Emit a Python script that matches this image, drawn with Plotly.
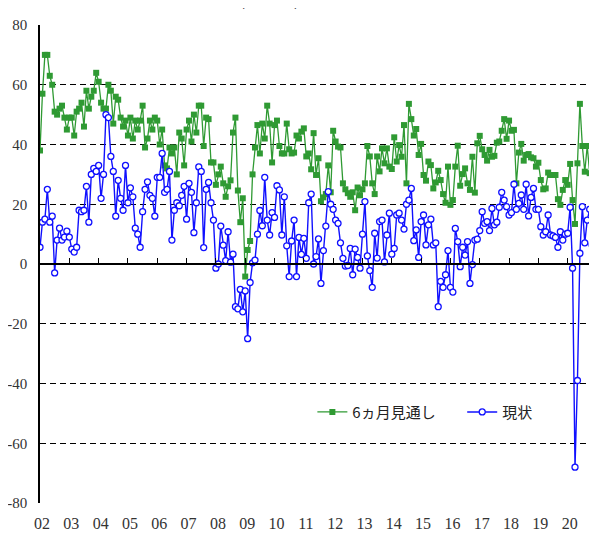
import plotly.graph_objects as go

# Monthly data, Jan 2002 onward
start_year = 2002

outlook_6m = [
    38, 57, 70, 70, 63, 60, 51, 50, 52, 53, 49, 45, 49, 49, 43, 51, 52, 54, 46, 58,
    52, 56, 58, 64, 61, 54, 52, 52, 60, 58, 47, 56, 55, 49, 46, 48, 43, 49, 42, 48,
    45, 48, 53, 39, 42, 48, 45, 49, 48, 40, 45, 33, 32, 39, 37, 39, 30, 44, 42, 33,
    45, 48, 41, 50, 44, 53,
    53, 39.5, 49, 48.5, 34, 34, 26.5, 30, 32.6, 27, 22.5, 26, 28, 44, 49, 24.6, 14, 22,
    -4.2, 4.7, 7.7, 30, 39, 46.5, 37, 47, 42, 53, 47, 34, 46.5, 48, 39.5, 37, 37, 47,
    38.4, 37, 37.3, 43, 42, 44.3, 45.4, 36, 37, 31.7, 43.8, 29.8, 35.4, 21, 22.3, 23.4,
    33, 24, 44.6, 41, 39.3, 39, 27, 25, 23.7, 22.5, 24, 18, 25.6, 23, 25, 27, 39.5, 36,
    27, 23.4, 36, 31, 38.7, 33.7, 38.7, 32.6, 31.8, 42.4, 34.3, 39.8,
    35.9, 46.5, 27, 53.6, 48.5, 43, 45.2, 36.5, 40.2, 29.8, 27.9, 34.3, 33.1, 25.3,
    27.3, 31.2, 28.1, 23.4, 20.5, 32.6, 19.8, 21.4, 32.6, 39.6, 26.2, 30.1, 32, 27,
    24.8, 35.9, 23.9, 40.4, 42.9, 38.4, 36.5, 34.6, 38.2, 35.9, 36.2, 40.6, 41, 44.6,
    48.5, 41.9, 48, 44.6, 44.9, 27, 37.3, 40.2, 34.6, 36.5, 36.8, 35.7, 35.4, 32.6,
    33.9, 28.1, 25, 25.3, 30.6, 29.8, 29.8, 29.8, 21.7, 19.8, 24.8, 28.1, 26.5, 33.5,
    21.4, 13.4, 33.7, 53.6, 39.5, 30.9, 39.5, 30.4, 27.9, 33.1, 38.2,
]

current = [
    5.6, 14, 15, 25, 14, 16, -3, 8, 12, 8, 9, 11, 9, 5, 4, 5.6, 18, 17.5, 18, 26,
    14, 30, 32, 31, 33, 22, 30, 50, 49, 36, 31, 16, 28, 22, 18, 33, 20.5, 25.5, 22.5, 12,
    10, 5.6, 17.5, 25, 27.5, 23, 22, 16, 29, 29, 37, 24, 25, 31, 8, 18, 20.5, 19.5, 23, 26,
    15, 27, 24, 10.5, 20.5, 32.5,
    31, 5.5, 25, 27.3, 20.5, 14.7, -1.4, 0, 12.7, 6.3, 1.1, 10.8, 0.6, 3.3, -14.3, -15,
    -8.5, -16, -9, -25, -6.2, 0.4, 1.3, 10, 17.9, 12.8, 29, 14.7, 9.7, 17.2, 15.6, 26.2,
    24.8, 9.7, 22.5, 6.1, -4.2, 7.7, 14.7, -4.2, 8.9, 3.2, 8.6, 1.9, 20.5, 23.4, 0, 2.5,
    8.4, -6.5, 4.5, 12.7, 24.2, 20, 18.3, 14.7, 13.6, 7.1, 1.9, -0.7, -0.5, 5.2, -3.6, 5,
    2.2, -1.4, 10, 20.9, 2.7, -2.2, -7.8, 10.3, 2, 14.2, 14.7, 0.7, 9.7, 17, 3.3, 5.2,
    16.4, 17, 14.7, 11.7, 20, 21.4, 25.3, 7.8, 11.4, 2.2, 14.2, 16.4, 6.4, 13.1, 15, 6.4,
    7.1, -14.3, -5.8, -7.8, -3.6, 4.5, -7.8, -9.4, 11.9, 7.5, -0.9, 5.6, 3, 7.5, -6.5, -0.2,
    8, 8.3, 11.2, 17.5, 13.6, 14.2, 11.2, 18.6, 13.1, 14, 19, 24, 21.4, 19.2, 16.4, 17.2,
    26.7, 18.3, 20.3, 23.1, 18.3, 26.7, 16.1, 22.3, 25.3, 18.3, 18.3, 12.5, 9.7, 10.8, 16.4, 9.7,
    9.4, 8.9, 5.6, 10.8, 8, 10, 10.3, 19, -1.4, -68, -39, 3.6, 19.2, 7.1, 14.7, 18.3,
    6.4, 12.7, 4.7,
]

year_ticks = list(range(2002, 2022))
year_labels = [f"{y % 100:02d}" for y in year_ticks]
y_ticks = list(range(-80, 81, 20))
y_labels = [str(v) for v in y_ticks]

t_current = [start_year + i / 12 for i in range(len(current))]
t_outlook = [start_year + i / 12 for i in range(len(outlook_6m))]

GREEN = "#2f9a33"
BLUE = "#1010ff"
NUM_FONT = "Liberation Serif, Times New Roman, serif"
JP_FONT = "Noto Sans CJK JP"

fig = go.Figure()
fig.add_trace(go.Scatter(
    x=t_outlook, y=outlook_6m, mode="lines+markers", name="6ヵ月見通し",
    line=dict(color=GREEN, width=1.3),
    marker=dict(symbol="square", size=6, color=GREEN),
    legend="legend",
))
fig.add_trace(go.Scatter(
    x=t_current, y=current, mode="lines+markers", name="現状",
    line=dict(color=BLUE, width=1.4),
    marker=dict(symbol="circle", size=6, color="white", line=dict(color=BLUE, width=1.3)),
    legend="legend2",
))
# empty trace living on the zero-line tick axis
fig.add_trace(go.Scatter(x=[], y=[], xaxis="x2", showlegend=False, hoverinfo="skip"))

xr = [2002, 2021]
leg_common = dict(
    orientation="h", y=0.19, xanchor="left", yanchor="middle",
    font=dict(family=JP_FONT, size=15, color="#222"),
    bgcolor="rgba(0,0,0,0)", itemwidth=30,
)
fig.update_layout(
    width=597, height=536,
    margin=dict(l=32, r=8, t=17, b=41),
    paper_bgcolor="white", plot_bgcolor="white",
    showlegend=True,
    legend=dict(x=0.489, **leg_common),
    legend2=dict(x=0.758, **leg_common),
    xaxis=dict(
        domain=[0, 1], range=xr, autorange=False, showgrid=False, zeroline=False,
        showline=False, ticks="", tickvals=year_ticks, ticktext=year_labels,
        tickfont=dict(family=NUM_FONT, size=16, color="#333"),
        ticklabelstandoff=9, ticklabelshift=2, ticklabeloverflow="allow",
        automargin=False,
    ),
    xaxis2=dict(
        range=xr, autorange=False, overlaying="x", anchor="free", position=0.5,
        side="bottom", showline=True, linecolor="black", linewidth=1.5,
        ticks="inside", ticklen=5, tickwidth=1.2, tickcolor="black",
        tickvals=year_ticks, showticklabels=False, showgrid=False, zeroline=False,
    ),
    yaxis=dict(
        domain=[0, 1], range=[-80, 80], autorange=False,
        tickvals=y_ticks, ticktext=y_labels,
        showgrid=True, gridcolor="black", gridwidth=1.1, griddash="6px,4px",
        zeroline=True, zerolinecolor="black", zerolinewidth=1.5,
        showline=True, linecolor="black", linewidth=1.5,
        ticks="", tickfont=dict(family=NUM_FONT, size=15, color="#333"),
        ticklabelstandoff=8, automargin=False,
    ),
    annotations=[dict(
        text="米国(NY連銀)製造業景況指数の推移", xref="paper", yref="paper",
        x=0.52, y=1.027, xanchor="center", yanchor="bottom", showarrow=False,
        font=dict(family=JP_FONT, size=15, color="#222"),
    )],
)

fig.write_html("out.html")
